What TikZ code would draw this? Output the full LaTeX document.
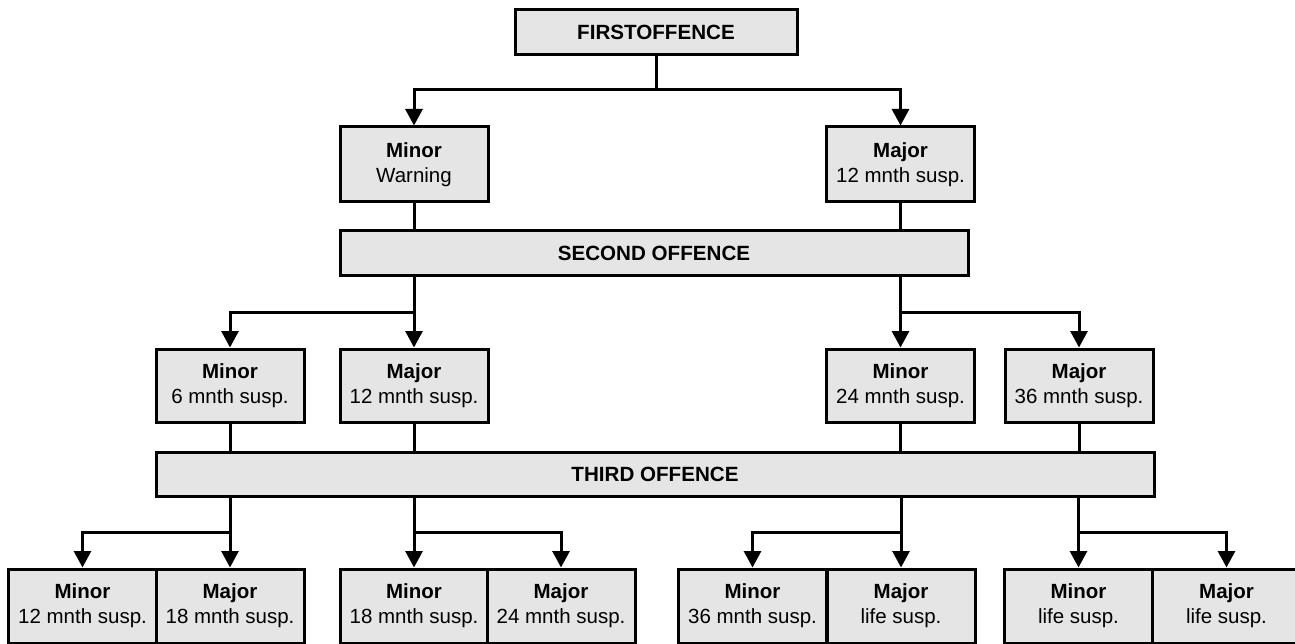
\documentclass[tikz,border=0pt]{standalone}
\usepackage{fontspec}
\setmainfont{Liberation Sans}
\usetikzlibrary{arrows.meta}
\definecolor{boxfill}{RGB}{229,229,229}
\tikzset{
  box/.style={draw=black, fill=boxfill, line width=3pt, inner sep=0pt,
    align=center, font=\fontsize{20.5}{25}\selectfont, minimum height=74pt},
  small/.style={box, minimum width=148pt},
  bar/.style={box, minimum height=45pt, font=\fontsize{20.6}{25}\selectfont\bfseries},
  conn/.style={line width=3pt, line cap=rect},
  arr/.style={line width=3pt, -{Triangle[length=16.5pt,width=17pt]}},
}
\begin{document}
\begin{tikzpicture}[x=1pt,y=-1pt]
\useasboundingbox (0,0) rectangle (1295,644);
% level 1
\node[bar, minimum width=282pt] (first) at (656,32) {FIRSTOFFENCE};
\node[small, minimum height=75pt] (mi1) at (414,164.5) {\textbf{Minor}\\Warning};
\node[small, minimum height=75pt] (ma1) at (900.5,164.5) {\textbf{Major}\\12 mnth susp.};
\node[bar, minimum width=628pt] (second) at (654,253.5) {SECOND OFFENCE};
% level 2
\node[small, minimum height=73pt] (mi2a) at (230,385.5) {\textbf{Minor}\\6 mnth susp.};
\node[small, minimum height=73pt] (ma2a) at (414,385.5) {\textbf{Major}\\12 mnth susp.};
\node[small, minimum height=73pt] (mi2b) at (900.5,385.5) {\textbf{Minor}\\24 mnth susp.};
\node[small, minimum height=73pt] (ma2b) at (1079,385.5) {\textbf{Major}\\36 mnth susp.};
\node[bar, minimum width=998pt, minimum height=44pt] (third) at (655,474) {THIRD OFFENCE};
% level 3
\node[small] (b1) at (82.5,606) {\textbf{Minor}\\12 mnth susp.};
\node[small] (b2) at (230,606) {\textbf{Major}\\18 mnth susp.};
\node[small] (b3) at (414,606) {\textbf{Minor}\\18 mnth susp.};
\node[small] (b4) at (561,606) {\textbf{Major}\\24 mnth susp.};
\node[small] (b5) at (752.5,606) {\textbf{Minor}\\36 mnth susp.};
\node[small] (b6) at (901,606) {\textbf{Major}\\life susp.};
\node[small] (b7) at (1078.5,606) {\textbf{Minor}\\life susp.};
\node[small] (b8) at (1226.5,606) {\textbf{Major}\\life susp.};
% junction coordinates
\coordinate (j1) at (656,90);
\coordinate (j2a) at (414,312);
\coordinate (j2b) at (900.5,312);
\coordinate (j3a) at (230,532);
\coordinate (j3b) at (414,532);
\coordinate (j3c) at (901,532);
\coordinate (j3d) at (1079,532);
% first -> level 1
\draw[conn] (first.south) -- (j1);
\draw[arr] (j1) -| (mi1.north);
\draw[arr] (j1) -| (ma1.north);
% level 1 -> second
\draw[conn] (mi1.south) -- (mi1.south |- second.north);
\draw[conn] (ma1.south) -- (ma1.south |- second.north);
% second -> level 2
\draw[arr] (ma2a.north |- second.south) -- (ma2a.north);
\draw[arr] (j2a) -| (mi2a.north);
\draw[arr] (mi2b.north |- second.south) -- (mi2b.north);
\draw[arr] (j2b) -| (ma2b.north);
% level 2 -> third
\draw[conn] (mi2a.south) -- (mi2a.south |- third.north);
\draw[conn] (ma2a.south) -- (ma2a.south |- third.north);
\draw[conn] (mi2b.south) -- (mi2b.south |- third.north);
\draw[conn] (ma2b.south) -- (ma2b.south |- third.north);
% third -> level 3
\draw[arr] (b2.north |- third.south) -- (b2.north);
\draw[arr] (j3a) -| (b1.north);
\draw[arr] (b3.north |- third.south) -- (b3.north);
\draw[arr] (j3b) -| (b4.north);
\draw[arr] (b6.north |- third.south) -- (b6.north);
\draw[arr] (j3c) -| (b5.north);
\draw[arr] (b7.north |- third.south) -- (b7.north);
\draw[arr] (j3d) -| (b8.north);
\end{tikzpicture}
\end{document}
